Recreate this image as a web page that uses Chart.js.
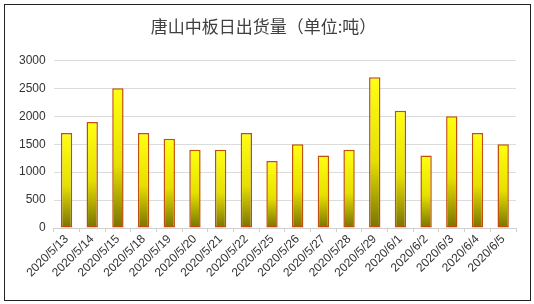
<!DOCTYPE html>
<html>
<head>
<meta charset="utf-8">
<script src="https://cdn.jsdelivr.net/npm/chart.js@4"></script>
<style>
  html, body { margin: 0; padding: 0; background: #fff; }
  #frame {
    position: absolute; left: 4px; top: 4px;
    width: 525px; height: 295px;
    border: 1px solid #222;
  }
  #chart { display: block; }
</style>
</head>
<body>
<div id="frame"><canvas id="chart" width="525" height="295"></canvas></div>
<script>
// Shipments per day (tonnes)
const dates = ['2020/5/13', '2020/5/14', '2020/5/15', '2020/5/18', '2020/5/19', '2020/5/20',
  '2020/5/21', '2020/5/22', '2020/5/25', '2020/5/26', '2020/5/27', '2020/5/28',
  '2020/5/29', '2020/6/1', '2020/6/2', '2020/6/3', '2020/6/4', '2020/6/5'];
const shipments = [1700, 1900, 2500, 1700, 1600, 1400, 1400, 1700, 1200, 1500, 1300, 1400,
  2700, 2100, 1300, 2000, 1700, 1500];
const yTicks = [0, 500, 1000, 1500, 2000, 2500, 3000];

const font = '"Liberation Sans", Arial, sans-serif';

// yellow at the top of each bar, olive at its base
function barGradient(ctx) {
  const chart = ctx.chart;
  if (!chart.chartArea || ctx.type !== 'data') return '#e0e000';
  const ys = chart.scales.y;
  const top = ys.getPixelForValue(ctx.raw);
  const bottom = ys.getPixelForValue(0);
  const g = chart.ctx.createLinearGradient(0, top, 0, bottom);
  g.addColorStop(0, '#ffff10');
  g.addColorStop(0.55, '#e6e000');
  g.addColorStop(1, '#787200');
  return g;
}

new Chart(document.getElementById('chart'), {
  type: 'bar',
  data: {
    labels: dates,
    datasets: [{
      data: shipments,
      backgroundColor: barGradient,
      borderColor: '#c0500a',
      borderWidth: 1.5,
      borderSkipped: false,
      categoryPercentage: 0.85,
      barPercentage: 0.52,
    }],
  },
  options: {
    responsive: false,
    animation: false,
    layout: { padding: { left: 6, right: 14, top: 0, bottom: 20 } },
    plugins: {
      legend: { display: false },
      tooltip: { enabled: false },
      title: {
        display: true,
        text: '唐山中板日出货量（单位:吨）',
        color: '#404040',
        font: { family: '"Noto Sans CJK SC", sans-serif', size: 17, weight: 'normal' },
        padding: { top: 11, bottom: 24 },
      },
    },
    scales: {
      x: {
        grid: { display: true, drawOnChartArea: false, drawTicks: true, tickLength: 4, color: '#d0d0d0', offset: true },
        border: { color: '#d0d0d0' },
        ticks: {
          color: '#333',
          font: { family: font, size: 12 },
          minRotation: 45, maxRotation: 45,
          padding: 0,
          autoSkip: false,
        },
      },
      y: {
        min: 0, max: 3000,
        afterBuildTicks: axis => { axis.ticks = yTicks.map(v => ({ value: v })); },
        grid: { color: '#dcdcdc', drawTicks: false },
        border: { display: false },
        ticks: {
          color: '#333',
          font: { family: font, size: 12 },
          padding: 8,
          callback: v => String(v),
        },
      },
    },
  },
});
</script>
</body>
</html>
